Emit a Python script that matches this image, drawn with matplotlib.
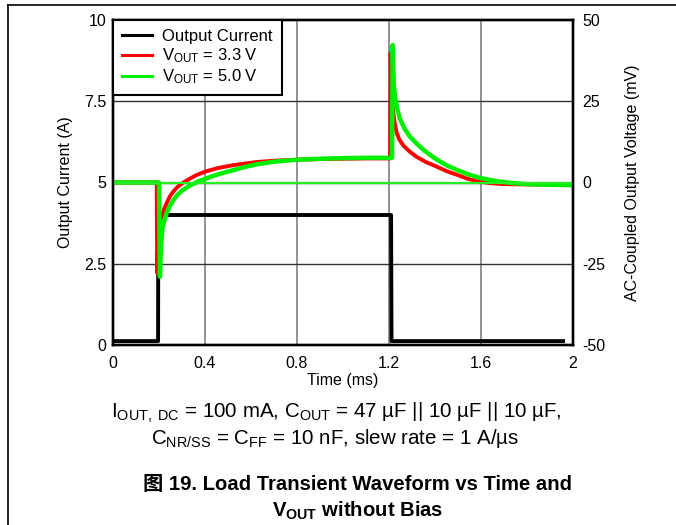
import matplotlib
matplotlib.use("Agg")
import matplotlib.pyplot as plt
from matplotlib.lines import Line2D

plt.rcParams['font.family'] = ['Liberation Sans', 'Noto Sans CJK SC', 'DejaVu Sans']
plt.rcParams['mathtext.fontset'] = 'custom'
plt.rcParams['mathtext.rm'] = 'Liberation Sans'
plt.rcParams['mathtext.it'] = 'Liberation Sans:italic'
plt.rcParams['mathtext.bf'] = 'Liberation Sans:bold'
plt.rcParams['axes.unicode_minus'] = False

# output current (A) vs time (ms)
t_cur = [0, 0.196, 0.197, 1.209, 1.211, 1.957]
i_cur = [0.12, 0.12, 4.0, 4.0, 0.12, 0.12]

# AC-coupled output voltage (mV), VOUT = 3.3 V
t_v33 = [0, 0.190, 0.192, 0.195, 0.198, 0.202, 0.207, 0.212, 0.222, 0.233, 0.247,
         0.262, 0.28, 0.30, 0.32, 0.36, 0.407, 0.46, 0.52, 0.58, 0.625, 0.7, 0.8,
         0.9, 1.0, 1.1, 1.205,
         1.207, 1.209, 1.212, 1.216, 1.219, 1.225, 1.233, 1.245, 1.262, 1.29, 1.32,
         1.36, 1.407, 1.45, 1.494, 1.54, 1.58, 1.64, 1.70, 1.8, 1.97]
v33 = [0, 0, -27.8, -22, -17, -14, -12, -10.5, -8.2, -6.4, -4.3,
       -2.8, -1.4, -0.3, 0.6, 2.2, 3.5, 4.5, 5.3, 5.9, 6.3, 6.7, 7.0,
       7.2, 7.3, 7.4, 7.4,
       39.9, 33, 27, 23.5, 21.3, 18.2, 15.4, 13.2, 11.4, 9.5, 7.9,
       6.3, 4.9, 3.5, 2.4, 1.2, 0.4, -0.2, -0.5, -0.6, -0.7]

# AC-coupled output voltage (mV), VOUT = 5.0 V
t_v50 = [0, 0.2, 0.204, 0.207, 0.21, 0.213, 0.216, 0.225, 0.233, 0.247, 0.262,
         0.28, 0.30, 0.335, 0.37, 0.407, 0.46, 0.523, 0.58, 0.625, 0.7, 0.8,
         0.9, 1.0, 1.1, 1.213,
         1.216, 1.218, 1.221, 1.226, 1.236, 1.248, 1.268, 1.291, 1.32, 1.349,
         1.38, 1.407, 1.45, 1.494, 1.545, 1.596, 1.66, 1.726, 1.8, 1.9, 1.987]
v50 = [0, 0, -29, -23, -18.5, -15.5, -13.6, -11.2, -9.5, -7.3, -5.5,
       -3.8, -2.5, -0.9, 0.3, 1.3, 2.6, 3.8, 4.9, 5.6, 6.4, 7.0,
       7.3, 7.5, 7.6, 7.6,
       42.3, 36, 30, 26.4, 22.5, 19.5, 16.5, 14.1, 12, 10.1,
       8.4, 7.1, 5.3, 3.9, 2.5, 1.4, 0.5, -0.1, -0.5, -0.7, -0.8]

x_ticks = [0, 0.4, 0.8, 1.2, 1.6, 2]
x_labels = ['0', '0.4', '0.8', '1.2', '1.6', '2']
yl_ticks = [0, 2.5, 5, 7.5, 10]
yl_labels = ['0', '2.5', '5', '7.5', '10']
yr_ticks = [-50, -25, 0, 25, 50]

fig = plt.figure(figsize=(6.76, 5.25), dpi=100)
ax = fig.add_axes([113 / 676, 1 - 345 / 525, 460 / 676, 325 / 525])
ax2 = ax.twinx()

ax.set_xlim(0, 2)
ax.set_ylim(0, 10)
ax2.set_ylim(-50, 50)

# grid
for x in x_ticks[1:-1]:
    ax.axvline(x, color='#808080', lw=1.2, zorder=0)
for y in [2.5, 5, 7.5]:
    ax.axhline(y, color='#333333', lw=1.0, zorder=0)

ax.plot(t_cur, i_cur, color='black', lw=2.8, label='Output Current')
ax2.axhline(0, color='#ff3000', lw=1.2)
ax2.plot(t_v33, v33, color='#ff0000', lw=2.8, label='V$_\\mathrm{OUT}$ = 3.3 V')
ax2.plot(t_v50, v50, color='#00ee00', lw=3.2, label='V$_\\mathrm{OUT}$ = 5.0 V')
ax2.axhline(0, color='#22ee22', lw=1.6)

ax.set_xticks(x_ticks)
ax.set_xticklabels(x_labels)
ax.set_yticks(yl_ticks)
ax.set_yticklabels(yl_labels)
ax2.set_yticks(yr_ticks)
ax.tick_params(length=0, labelsize=11.5, pad=5)
ax.tick_params(axis='x', pad=8)
ax2.tick_params(length=0, labelsize=11.5, pad=7)

for a in (ax, ax2):
    for s in a.spines.values():
        s.set_linewidth(1.7)

ax.set_xlabel('Time (ms)', fontsize=11.5, labelpad=1)
ax.set_ylabel('Output Current (A)', fontsize=11.5, labelpad=8)
ax2.set_ylabel('AC-Coupled Output Voltage (mV)', fontsize=11.5, labelpad=14)

h1, l1 = ax.get_legend_handles_labels()
h2, l2 = ax2.get_legend_handles_labels()
leg = ax2.legend(h1 + h2, l1 + l2, loc='upper left', fontsize=12, fancybox=False,
                 framealpha=1, edgecolor='black', borderaxespad=0, handlelength=1.8,
                 labelspacing=0.14, borderpad=0.55, handletextpad=0.6)
leg.get_frame().set_linewidth(1.5)
for ln in leg.get_lines():
    ln.set_linewidth(2.2)

fig.text(0.497, 1 - 413 / 525,
         'I$_\\mathrm{OUT,\\ DC}$ = 100 mA, C$_\\mathrm{OUT}$ = 47 µF || 10 µF || 10 µF,',
         ha='center', va='center', fontsize=14.8)
fig.text(0.495, 1 - 438 / 525,
         'C$_\\mathrm{NR/SS}$ = C$_\\mathrm{FF}$ = 10 nF, slew rate = 1 A/µs',
         ha='center', va='center', fontsize=14.8)
fig.text(0.529, 1 - 484 / 525, '图 19. Load Transient Waveform vs Time and',
         ha='center', va='center', fontsize=14.6, fontweight='bold')
fig.text(0.529, 1 - 511 / 525, '$\\mathbf{V_{OUT}}$ without Bias',
         ha='center', va='center', fontsize=14.6, fontweight='bold')

# page frame
fig.add_artist(Line2D([8 / 676, 1], [1 - 5 / 525, 1 - 5 / 525], color='black', lw=1.2))
fig.add_artist(Line2D([8 / 676, 8 / 676], [0, 1 - 5 / 525], color='black', lw=1.2))

fig.savefig('out.png', dpi=100)
